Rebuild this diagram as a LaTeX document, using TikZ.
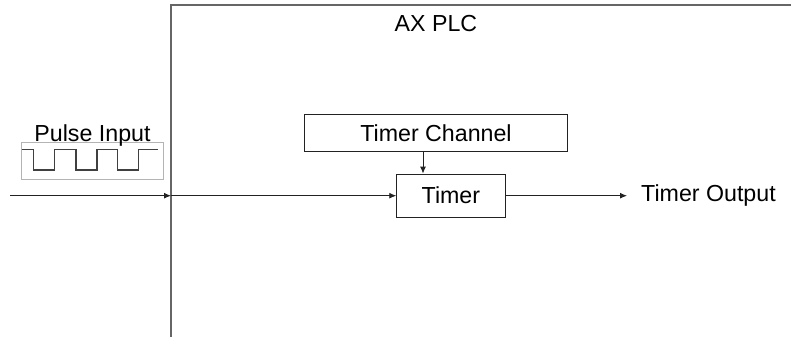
\documentclass[tikz,border=0pt]{standalone}
\usepackage{fontspec}
\setmainfont{Liberation Sans}
\usetikzlibrary{arrows.meta}
\definecolor{linec}{HTML}{222222}
\definecolor{framec}{HTML}{666666}
\definecolor{pboxc}{HTML}{B4B4B4}
\tikzset{
  lbl/.style={font=\fontsize{23.2bp}{27bp}\selectfont, text=black, inner sep=0pt},
  blockbox/.style={draw=linec, line width=1bp, lbl, minimum height=#1},
  conn/.style={draw=linec, line width=0.9bp, -{Latex[length=7bp,width=6bp]}},
  wave/.style={draw=black!75, line width=1.6bp},
}
\begin{document}
\begin{tikzpicture}[x=1bp,y=-1bp]
\useasboundingbox (0,0) rectangle (791,336);
% PLC frame
\coordinate (plcbot) at (171,340);
\coordinate (plctl) at (171,5);
\coordinate (plctr) at (795,5);
\draw[framec, line width=2bp] (plcbot) -- (plctl) -- (plctr);
\node[lbl] (plc) at (436,24) {AX PLC};
% Pulse input
\node[draw=pboxc, line width=0.8bp, minimum width=141.3bp, minimum height=36.3bp, inner sep=0pt] (pbox) at (92.3,160.8) {};
\node[lbl, anchor=base] (plabel) at (92.5,141.5) {Pulse Input};
\draw[wave] (21.7,149.3) -- (33.3,149.3) -- (33.3,170) -- (54.3,170) -- (54.3,149.3) -- (76,149.3) -- (76,170) -- (96.7,170) -- (96.7,149.3) -- (117.3,149.3) -- (117.3,170) -- (138.3,170) -- (138.3,149.3) -- (158.3,149.3);
% blocks
\node[blockbox=37.7bp, minimum width=262.6bp] (chan) at (436,132.9) {Timer Channel};
\node[blockbox=43.3bp, minimum width=108.3bp] (timer) at (450.9,195.7) {Timer};
% connectors
\coordinate (in) at (10,195.7);
\coordinate (plcL) at (171,195.7);
\coordinate (cx) at (423,0);
\coordinate (outend) at (627,195.7);
\draw[conn] (in) -- (plcL);
\draw[conn] (plcL) -- (timer.west);
\draw[conn] (chan.south -| cx) -- (timer.north -| cx);
\draw[conn] (timer.east) -- (outend);
\node[lbl, anchor=west] (out) at (641,195.7) {Timer Output};
\end{tikzpicture}
\end{document}
